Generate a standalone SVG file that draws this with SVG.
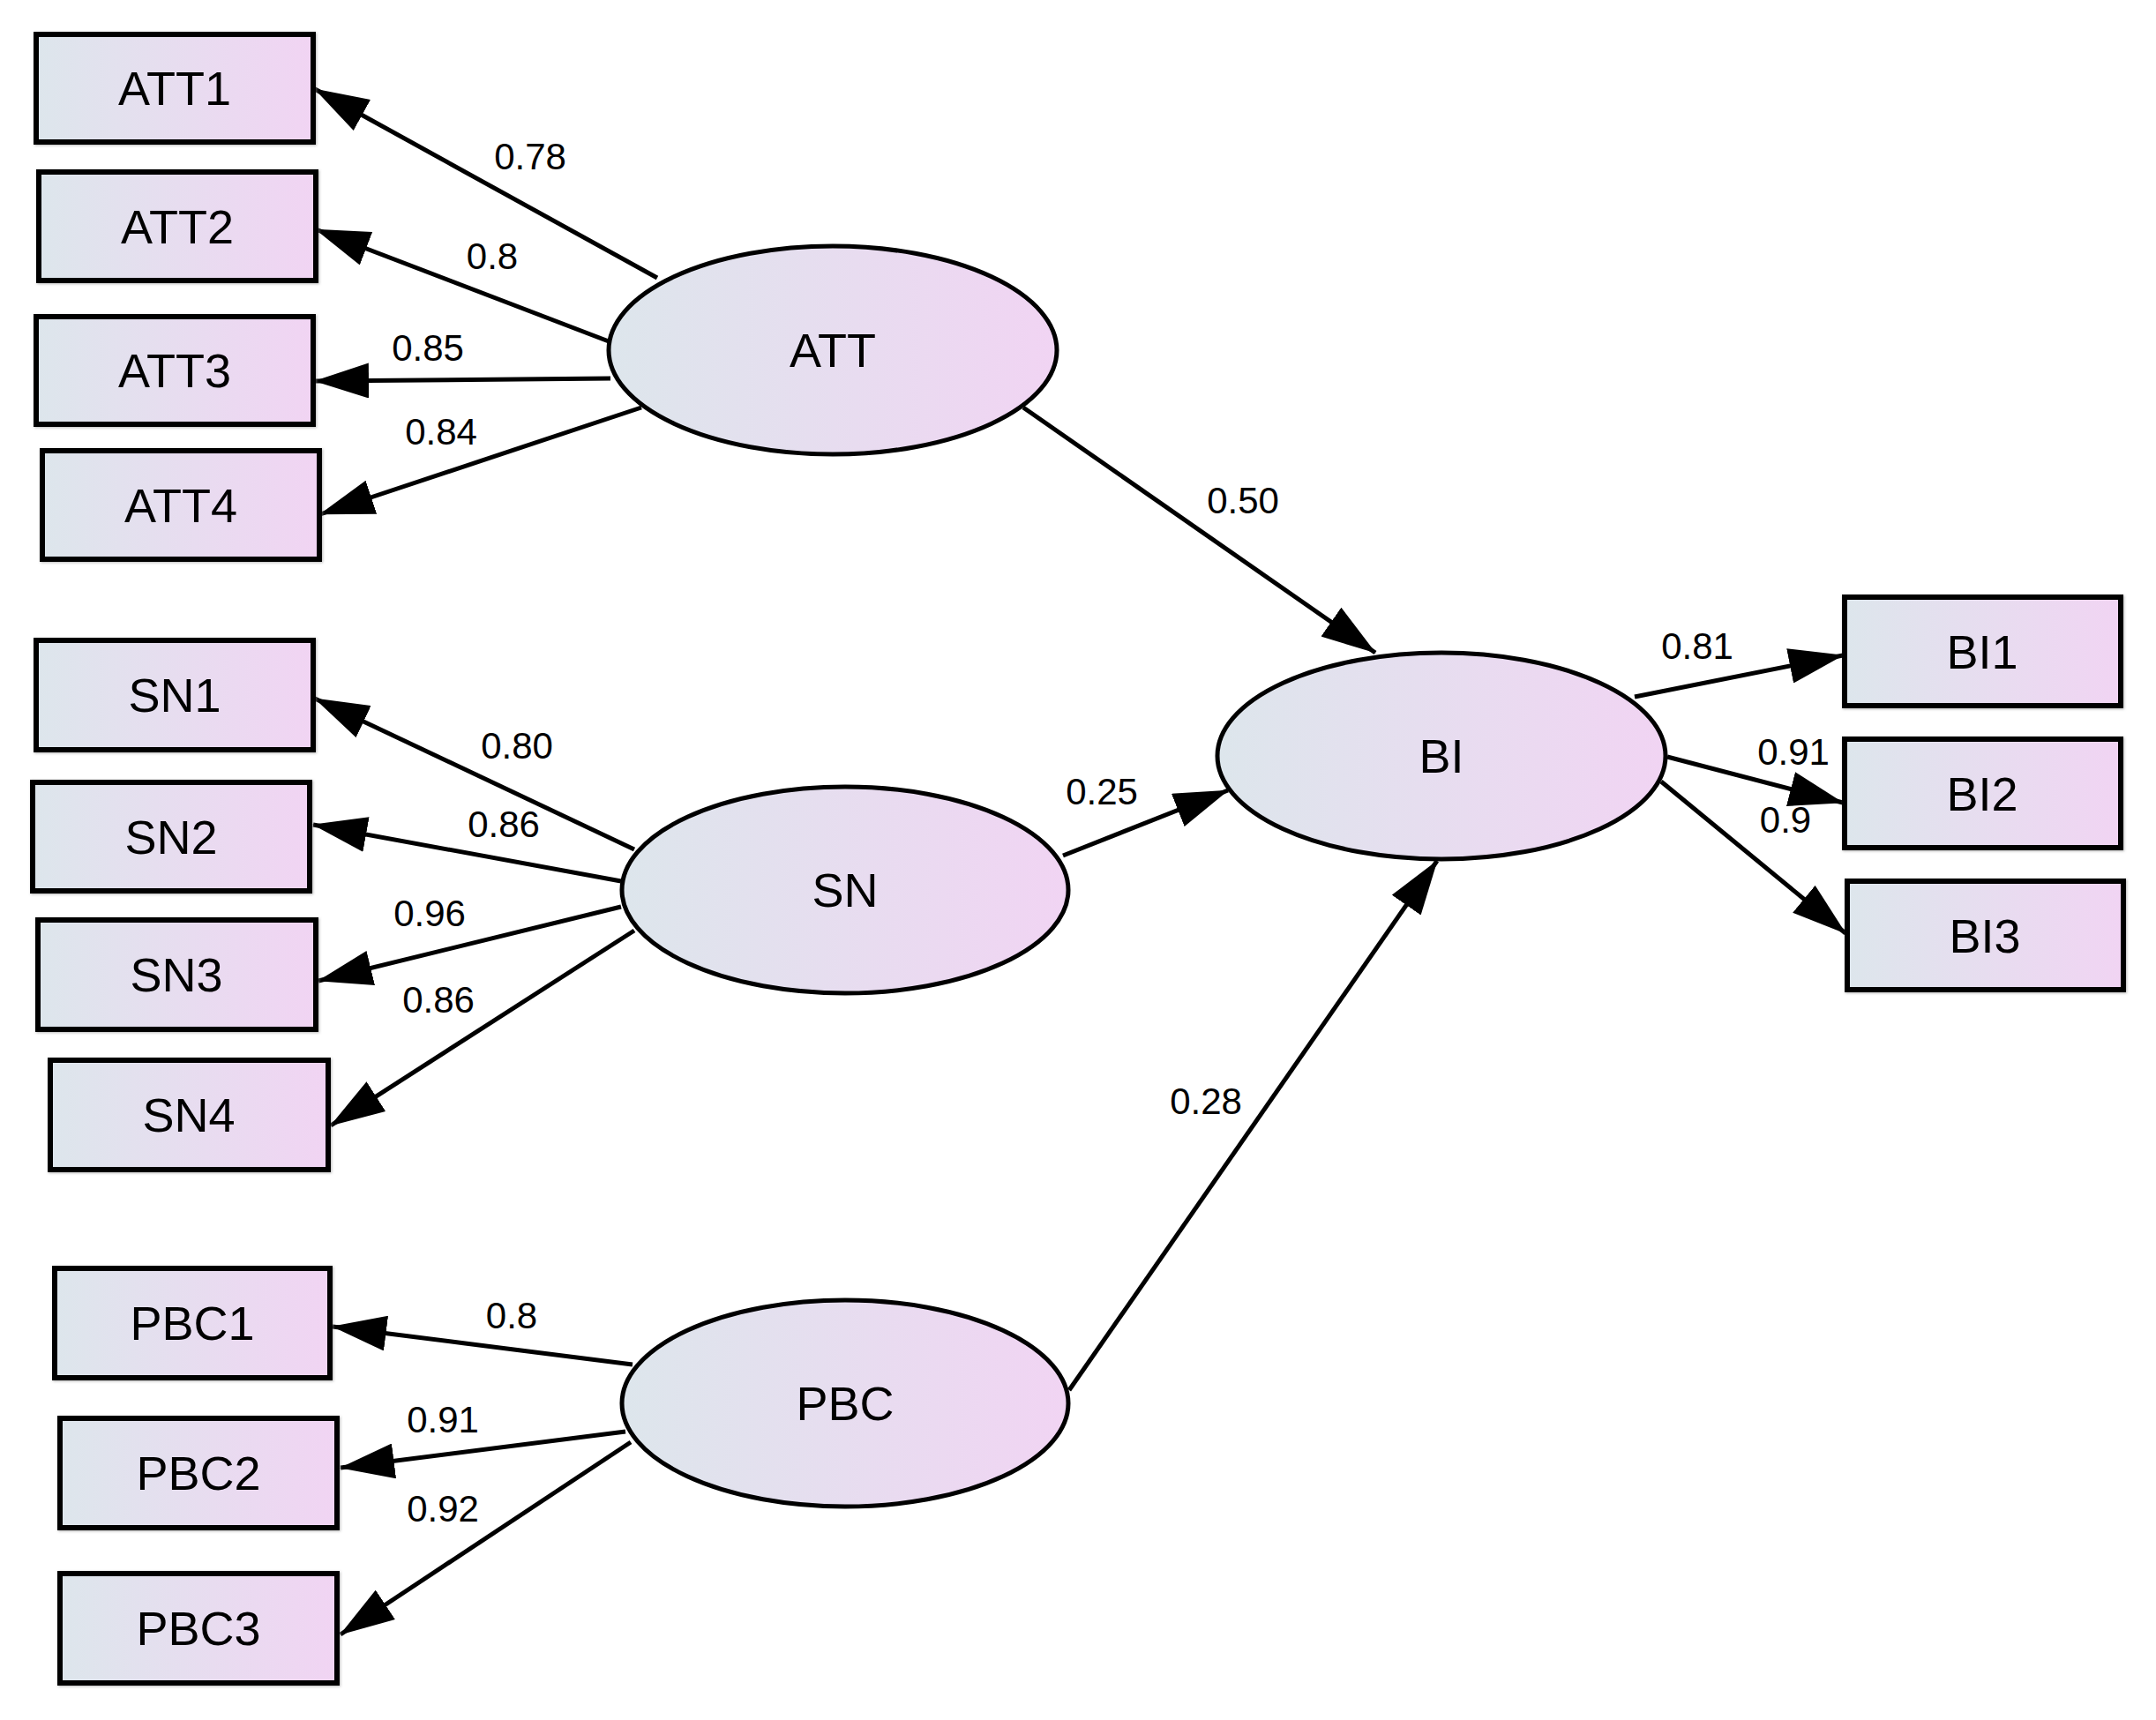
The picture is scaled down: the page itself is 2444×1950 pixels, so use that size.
<svg xmlns="http://www.w3.org/2000/svg" width="2444" height="1950" viewBox="0 0 2444 1950">
<defs>
<linearGradient id="g" x1="0" y1="0" x2="1" y2="0">
<stop offset="0" stop-color="#dde6ec"/>
<stop offset="1" stop-color="#f1d4f3"/>
</linearGradient>
<marker id="ah" viewBox="0 0 62 40" refX="61" refY="20" markerWidth="62" markerHeight="40" orient="auto" markerUnits="userSpaceOnUse">
<path d="M0,0 L62,20 L0,40 z" fill="#000"/>
</marker>
<filter id="sh" x="-5%" y="-5%" width="110%" height="110%">
<feGaussianBlur in="SourceAlpha" stdDeviation="1.5"/>
<feOffset dx="1" dy="1" result="b"/>
<feFlood flood-color="#888" flood-opacity="0.6"/>
<feComposite in2="b" operator="in"/>
<feMerge><feMergeNode/><feMergeNode in="SourceGraphic"/></feMerge>
</filter>
</defs>
<style>
.box{fill:url(#g);stroke:#000;stroke-width:6}
.lat{fill:url(#g);stroke:#000;stroke-width:5}
.lbl{font-family:"Liberation Sans",Arial,sans-serif;font-size:54px;fill:#000;text-anchor:middle}
.el{font-family:"Liberation Sans",Arial,sans-serif;font-size:42px;fill:#000;text-anchor:middle}
.c{stroke:#000;stroke-width:5;fill:none;marker-end:url(#ah)}
</style>
<rect width="2444" height="1950" fill="#fff"/>

<g id="connectors">
<line class="c" x1="745" y1="315" x2="357" y2="101"/>
<line class="c" x1="690" y1="387" x2="358" y2="260"/>
<line class="c" x1="692" y1="429" x2="357" y2="432"/>
<line class="c" x1="727" y1="462" x2="363" y2="583"/>
<line class="c" x1="1160" y1="462" x2="1559" y2="740"/>
<line class="c" x1="719" y1="963" x2="357" y2="792"/>
<line class="c" x1="704" y1="999" x2="355" y2="935"/>
<line class="c" x1="704" y1="1028" x2="361" y2="1112"/>
<line class="c" x1="719" y1="1055" x2="375" y2="1276"/>
<line class="c" x1="1205" y1="970" x2="1392" y2="896"/>
<line class="c" x1="717" y1="1547" x2="377" y2="1504"/>
<line class="c" x1="709" y1="1623" x2="386" y2="1664"/>
<line class="c" x1="715" y1="1635" x2="386" y2="1853"/>
<line class="c" x1="1212" y1="1576" x2="1629" y2="976"/>
<line class="c" x1="1853" y1="790" x2="2089" y2="743"/>
<line class="c" x1="1890" y1="858" x2="2089" y2="910"/>
<line class="c" x1="1883" y1="886" x2="2092" y2="1058"/>
<g id="edge-labels">
<text class="el" x="601" y="192">0.78</text>
<text class="el" x="558" y="305">0.8</text>
<text class="el" x="485" y="409">0.85</text>
<text class="el" x="500" y="504">0.84</text>
<text class="el" x="1409" y="582">0.50</text>
<text class="el" x="586" y="860">0.80</text>
<text class="el" x="571" y="949">0.86</text>
<text class="el" x="487" y="1050">0.96</text>
<text class="el" x="497" y="1148">0.86</text>
<text class="el" x="1249" y="912">0.25</text>
<text class="el" x="1367" y="1263">0.28</text>
<text class="el" x="580" y="1506">0.8</text>
<text class="el" x="502" y="1624">0.91</text>
<text class="el" x="502" y="1725">0.92</text>
<text class="el" x="1924" y="747">0.81</text>
<text class="el" x="2033" y="867">0.91</text>
<text class="el" x="2024" y="944">0.9</text>
</g>
</g>

<g id="ATT"><ellipse class="lat" cx="944" cy="397" rx="254" ry="118"/><text class="lbl" x="944" y="416">ATT</text></g>
<g id="SN"><ellipse class="lat" cx="958" cy="1009" rx="253" ry="117"/><text class="lbl" x="958" y="1028">SN</text></g>
<g id="PBC"><ellipse class="lat" cx="958" cy="1591" rx="253" ry="117"/><text class="lbl" x="958" y="1610">PBC</text></g>
<g id="BI"><ellipse class="lat" cx="1634" cy="857" rx="254" ry="117"/><text class="lbl" x="1634" y="876">BI</text></g>

<g filter="url(#sh)">
<g id="ATT1"><rect class="box" x="41" y="39" width="314" height="122"/><text class="lbl" x="198" y="119">ATT1</text></g>
<g id="ATT2"><rect class="box" x="44" y="195" width="314" height="123"/><text class="lbl" x="201" y="276">ATT2</text></g>
<g id="ATT3"><rect class="box" x="41" y="359" width="314" height="122"/><text class="lbl" x="198" y="439">ATT3</text></g>
<g id="ATT4"><rect class="box" x="48" y="511" width="314" height="123"/><text class="lbl" x="205" y="592">ATT4</text></g>
<g id="SN1"><rect class="box" x="41" y="726" width="314" height="124"/><text class="lbl" x="198" y="807">SN1</text></g>
<g id="SN2"><rect class="box" x="37" y="887" width="314" height="123"/><text class="lbl" x="194" y="968">SN2</text></g>
<g id="SN3"><rect class="box" x="43" y="1043" width="315" height="124"/><text class="lbl" x="200" y="1124">SN3</text></g>
<g id="SN4"><rect class="box" x="57" y="1202" width="315" height="124"/><text class="lbl" x="214" y="1283">SN4</text></g>
<g id="PBC1"><rect class="box" x="62" y="1438" width="312" height="124"/><text class="lbl" x="218" y="1519">PBC1</text></g>
<g id="PBC2"><rect class="box" x="68" y="1608" width="314" height="124"/><text class="lbl" x="225" y="1689">PBC2</text></g>
<g id="PBC3"><rect class="box" x="68" y="1784" width="314" height="124"/><text class="lbl" x="225" y="1865">PBC3</text></g>
<g id="BI1"><rect class="box" x="2091" y="677" width="313" height="123"/><text class="lbl" x="2247" y="758">BI1</text></g>
<g id="BI2"><rect class="box" x="2091" y="838" width="313" height="123"/><text class="lbl" x="2247" y="919">BI2</text></g>
<g id="BI3"><rect class="box" x="2094" y="999" width="313" height="123"/><text class="lbl" x="2250" y="1080">BI3</text></g>
</g>
</svg>
